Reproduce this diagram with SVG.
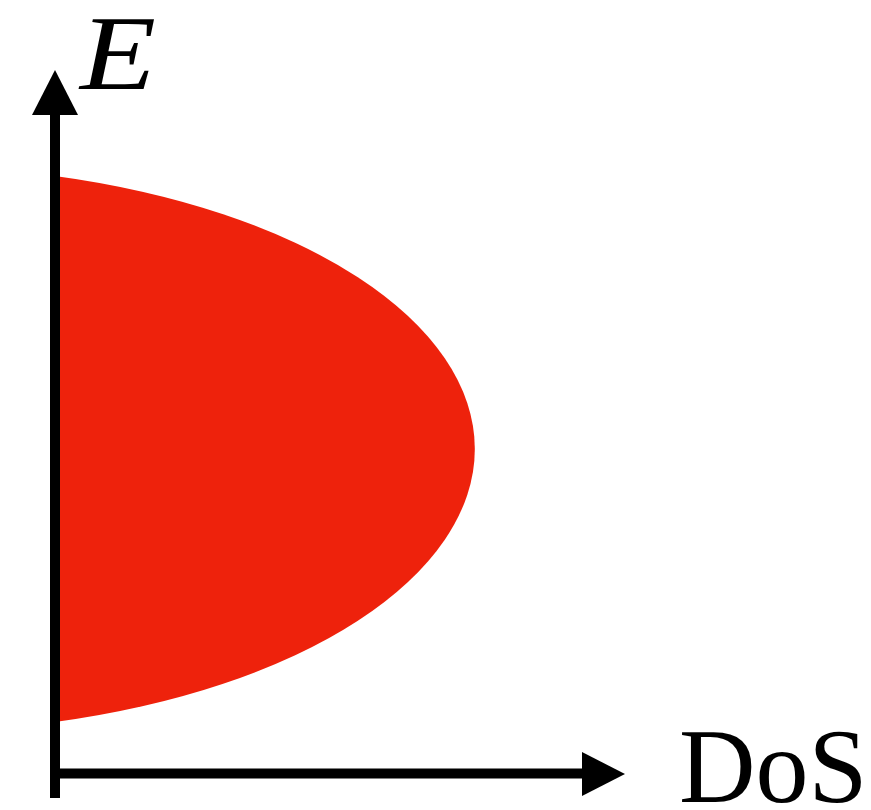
<svg xmlns="http://www.w3.org/2000/svg" width="871" height="810" viewBox="0 0 871 810">
<style>
.axis{stroke:#000;stroke-width:10;fill:none}
.head{fill:#000}
.lbl{font-family:"Liberation Serif","DejaVu Serif",serif;font-size:106px;fill:#000}
</style>
<rect width="871" height="810" fill="#fff"/>
<g id="dos-region">
<path d="M55,176 A570,283 0 0 1 55,722 Z" fill="#ee220c"/>
</g>
<g id="connectors">
<line class="axis" x1="55" y1="798" x2="55" y2="112"/>
<polygon class="head" points="55,70 32,115 78,115"/>
<line class="axis" x1="50" y1="773.5" x2="585" y2="773.5"/>
<polygon class="head" points="625,774 582,752 582,796"/>
</g>
<g id="label-E">
<text class="lbl" x="80" y="89" font-style="italic" textLength="76" lengthAdjust="spacingAndGlyphs">E</text>
</g>
<g id="label-DoS">
<text class="lbl" x="679" y="802">DoS</text>
</g>
</svg>
